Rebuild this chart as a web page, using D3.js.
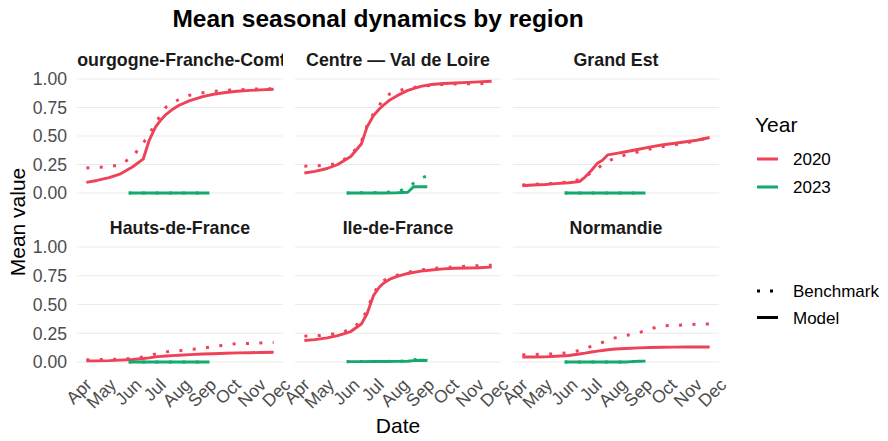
<!DOCTYPE html>
<html><head><meta charset="utf-8">
<script src="https://cdn.jsdelivr.net/npm/d3@7"></script>
<style>body{margin:0;background:#fff;} svg{display:block;font-family:"Liberation Sans",Arial,sans-serif;}</style>
</head><body><svg id="c" width="888" height="441"></svg>
<script>
const regions = ["Bourgogne-Franche-Comté","Centre — Val de Loire","Grand Est","Hauts-de-France","Ile-de-France","Normandie"];
const dates2020 = ["04-04","04-17","05-02","05-15","05-31","06-13","06-20","06-28","07-05","07-11","07-18","07-27","08-09","08-25","09-07","09-22","10-06","10-22","11-04","11-20"];
const dates2023 = ["05-26","06-13","06-28","07-11","07-27","08-09","08-16","08-25","09-02"];
const yTicks = [0, 0.25, 0.5, 0.75, 1];
const yTickLabels = ["0.00","0.25","0.50","0.75","1.00"];
const monthTicks = ["04-01","05-01","06-01","07-01","08-01","09-01","10-01","11-01","12-01"];
const monthLabels = ["Apr","May","Jun","Jul","Aug","Sep","Oct","Nov","Dec"];

const model2020 = [
 [.093,.11,.135,.165,.23,.30,.46,.58,.645,.69,.73,.77,.81,.845,.866,.882,.892,.90,.905,.91],
 [.175,.19,.215,.25,.32,.43,.58,.68,.737,.776,.816,.854,.90,.935,.952,.96,.965,.97,.975,.98],
 [.064,.07,.075,.082,.09,.10,.14,.20,.26,.285,.335,.346,.362,.384,.403,.421,.434,.45,.463,.487],
 [.01,.01,.012,.016,.022,.03,.036,.045,.049,.052,.055,.059,.064,.069,.072,.076,.079,.081,.083,.085],
 [.187,.195,.21,.23,.265,.33,.42,.58,.65,.69,.72,.745,.77,.79,.80,.81,.815,.818,.82,.825],
 [.043,.043,.045,.05,.057,.07,.077,.087,.095,.10,.107,.113,.118,.123,.126,.128,.129,.13,.13,.13]
];
const bench2020 = [
 [.22,.225,.232,.245,.32,.44,.51,.617,.69,.755,.786,.822,.858,.88,.892,.90,.905,.91,.913,.915],
 [.235,.238,.243,.26,.33,.45,.59,.70,.77,.83,.87,.893,.918,.935,.945,.953,.957,.959,.96,.962],
 [.07,.077,.08,.086,.097,.118,.14,.18,.21,.25,.275,.31,.335,.362,.385,.405,.42,.44,.458,.49],
 [.02,.022,.022,.025,.03,.045,.055,.07,.08,.088,.093,.098,.108,.12,.135,.148,.16,.162,.166,.17],
 [.225,.228,.235,.25,.28,.36,.45,.60,.67,.71,.735,.755,.78,.80,.812,.82,.827,.833,.838,.842],
 [.063,.065,.068,.072,.08,.10,.115,.14,.155,.17,.185,.21,.23,.255,.285,.315,.318,.322,.328,.33]
];
const model2023 = [
 [0,0,0,0,0,0,0,0,0],
 [0,0,0,0,.002,.006,.055,.055,.055],
 [0,0,0,0,0,0,0,0,0],
 [0,0,0,0,0,0,0,0,0],
 [.003,.003,.004,.004,.005,.006,.012,.015,.013],
 [0,0,0,0,0,0,.003,.006,.008]
];
const bench2023 = [
 [0,0,0,0,0,0,0,0,0],
 [0,.002,.003,.005,.012,.045,.085,.13,.15],
 [0,0,0,0,0,0,0,0,0],
 [0,0,0,0,0,0,0,0,0],
 [.003,.004,.004,.005,.006,.01,.02,.023,.02],
 [0,0,0,0,0,0,.003,.006,.008]
];
const years = ["2020","2023"];
const yearColors = ["#EE4258","#14A96D"];
const types = ["Benchmark","Model"];

const parse = s => new Date("2020-" + s + "T00:00:00");
const svg = d3.select("#c");
const W = 206, colX = [77, 295, 513];
const rowY = [{zero:193, one:79}, {zero:362, one:247}];
const dStart = parse(dates2020[0]), dEnd = parse(dates2020[dates2020.length-1]);
const span = dEnd - dStart;
const dash = "3,10.4";

// title
svg.append("text").attr("x",378).attr("y",27).attr("text-anchor","middle")
  .attr("font-size",24.5).attr("font-weight","bold").attr("fill","#000")
  .text("Mean seasonal dynamics by region");

const defs = svg.append("defs");

regions.forEach((reg, i) => {
  const col = i % 3, row = Math.floor(i / 3);
  const x0 = colX[col];
  const x = d3.scaleTime().domain([new Date(+dStart - span*0.05), new Date(+dEnd + span*0.05)]).range([x0, x0 + W]);
  const y = d3.scaleLinear().domain([0,1]).range([rowY[row].zero, rowY[row].one]);
  const g = svg.append("g");
  g.selectAll("line.grid").data(yTicks).join("line")
    .attr("x1", x0).attr("x2", x0 + W).attr("y1", d => y(d)).attr("y2", d => y(d))
    .attr("stroke","#EBEBEB").attr("stroke-width",1.1);
  if (col === 0) {
    g.selectAll("text.yt").data(yTicks).join("text")
      .attr("x", 67).attr("y", d => y(d)).attr("dy","0.36em").attr("text-anchor","end")
      .attr("font-size",17.6).attr("fill","#4D4D4D").text((d,k) => yTickLabels[k]);
  }
  const cid = "clip" + i;
  defs.append("clipPath").attr("id", cid).append("rect")
    .attr("x", x0).attr("y", rowY[row].one - 40).attr("width", W).attr("height", 40);
  g.append("text").attr("clip-path", `url(#${cid})`)
    .attr("x", x0 + W/2).attr("y", row === 0 ? 66 : 234).attr("text-anchor","middle")
    .attr("font-size",17.8).attr("font-weight","bold").attr("fill","#1A1A1A").text(reg);
  if (row === 1) {
    monthTicks.forEach((m, k) => {
      g.append("text")
        .attr("transform", `translate(${x(parse(m))},${377}) rotate(-45)`)
        .attr("text-anchor","end").attr("dy","0.72em")
        .attr("font-size",17.6).attr("fill","#4D4D4D").text(monthLabels[k]);
    });
  }
  const line = d3.line().x(d => x(d.date)).y(d => y(d.v));
  const mk = (ds, vs) => ds.map((s, k) => ({date: parse(s), v: vs[k]}));
  const series = [
    {data: mk(dates2020, bench2020[i]), color: yearColors[0], dotted: true},
    {data: mk(dates2020, model2020[i]), color: yearColors[0], dotted: false},
    {data: mk(dates2023, bench2023[i]), color: yearColors[1], dotted: true},
    {data: mk(dates2023, model2023[i]), color: yearColors[1], dotted: false}
  ];
  series.forEach(s => {
    g.append("path").attr("d", line(s.data)).attr("fill","none")
      .attr("stroke", s.color).attr("stroke-width", s.dotted ? 3 : 2.9)
      .attr("stroke-dasharray", s.dotted ? dash : null)
      .attr("stroke-linejoin","round");
  });
});

svg.append("text").attr("x",398).attr("y",433).attr("text-anchor","middle")
  .attr("font-size",21).attr("fill","#000").text("Date");
svg.append("text").attr("transform","translate(25,222) rotate(-90)").attr("text-anchor","middle")
  .attr("font-size",21).attr("fill","#000").text("Mean value");

const lg = svg.append("g");
lg.append("text").attr("x",755).attr("y",132).attr("font-size",21).attr("fill","#000").text("Year");
years.forEach((yv, k) => {
  const cy = 159 + k*28;
  lg.append("line").attr("x1",757).attr("x2",778).attr("y1",cy).attr("y2",cy)
    .attr("stroke", yearColors[k]).attr("stroke-width",3);
  lg.append("text").attr("x",793).attr("y",cy).attr("dy","0.36em").attr("font-size",17).attr("fill","#000").text(yv);
});
types.forEach((t, k) => {
  const cy = 291 + k*26.5;
  lg.append("line").attr("x1",757).attr("x2",778).attr("y1",cy).attr("y2",cy)
    .attr("stroke","#000").attr("stroke-width",3)
    .attr("stroke-dasharray", t === "Benchmark" ? "3,10" : null);
  lg.append("text").attr("x",793).attr("y",cy).attr("dy","0.36em").attr("font-size",17).attr("fill","#000").text(t);
});
</script></body></html>
